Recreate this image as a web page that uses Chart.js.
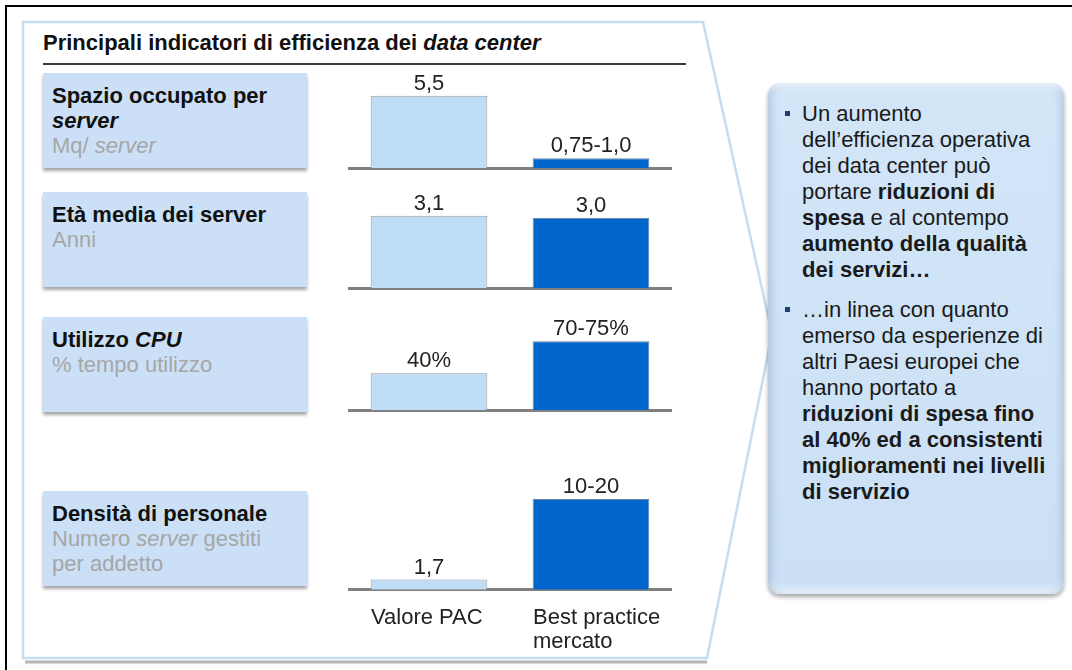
<!DOCTYPE html>
<html>
<head>
<meta charset="utf-8">
<script src="https://cdn.jsdelivr.net/npm/chart.js@4.4.0/dist/chart.umd.min.js"></script>
<style>
  html, body { margin: 0; padding: 0; background: #fff; }
  body { width: 1072px; height: 670px; position: relative; overflow: hidden;
         font-family: 'Liberation Sans', Arial, Helvetica, sans-serif; color: #111; }
  .frame-top { position: absolute; left: 5px; top: 5px; width: 1067px; height: 2px; background: #000; }
  .frame-left { position: absolute; left: 5px; top: 5px; width: 2px; height: 665px; background: #000; }
  svg.panel { position: absolute; left: 0; top: 0; }
  .title { position: absolute; left: 43px; top: 30px; font-size: 22px; line-height: 26px; font-weight: bold; white-space: nowrap; }
  .rule { position: absolute; left: 43px; top: 63px; width: 643px; height: 2px; background: #3a3a3a; }
  .box { position: absolute; left: 43px; width: 255px; height: 85px; padding: 10px 0 0 9px;
         background: #cbe0f6; box-shadow: 0 3px 3px rgba(0,0,0,0.35);
         font-size: 22px; line-height: 25px; white-space: nowrap; }
  .box b { color: #111; }
  .box .sub { color: #a6a6a6; }
  canvas { position: absolute; left: 348px; }
  .callout { position: absolute; left: 768px; top: 83px; width: 296px; height: 511px; border-radius: 12px;
             background: linear-gradient(#d3e6f8, #cbe0f5);
             box-shadow: inset 0 7px 7px -5px rgba(255,255,255,0.8),
                         inset 7px 0 8px -5px rgba(80,110,150,0.35),
                         inset -7px 0 8px -5px rgba(80,110,150,0.3),
                         inset 0 -9px 8px -5px rgba(255,255,255,0.7),
                         0 3px 4px rgba(0,0,0,0.35); }
  .notes { position: absolute; left: 802px; top: 101px; font-size: 22px; line-height: 26px; color: #1a1a1a; white-space: nowrap; }
  .notes p { margin: 0; position: relative; }
  .notes p + p { margin-top: 14px; }
  .notes p::before { content: ''; position: absolute; left: -17px; top: 10px; width: 5px; height: 5px; background: #1f3f6e; }
</style>
</head>
<body>
<div class="frame-top"></div>
<div class="frame-left"></div>

<svg class="panel" width="1072" height="670">
  <polyline points="25,662 707,662" fill="none" stroke="rgba(90,90,90,0.45)" stroke-width="3"/>
  <polygon points="23,22 703,22 772,334 707,658 23,658" fill="none" stroke="#c7dcf1" stroke-width="2.5"/>
</svg>

<div class="title">Principali indicatori di efficienza dei <i>data center</i></div>
<div class="rule"></div>

<div class="box" style="top:73px"><b>Spazio occupato per</b><br><b><i>server</i></b><br><span class="sub">Mq/ <i>server</i></span></div>
<div class="box" style="top:192px"><b>Età media dei server</b><br><span class="sub">Anni</span></div>
<div class="box" style="top:317px"><b>Utilizzo <i>CPU</i></b><br><span class="sub">% tempo utilizzo</span></div>
<div class="box" style="top:491px"><b>Densità di personale</b><br><span class="sub">Numero <i>server</i> gestiti</span><br><span class="sub">per addetto</span></div>

<canvas id="row0" width="324" height="130" style="top:40px"></canvas>
<canvas id="row1" width="324" height="130" style="top:160px"></canvas>
<canvas id="row2" width="324" height="130" style="top:282px"></canvas>
<canvas id="row3" width="324" height="210" style="top:460px"></canvas>

<div class="callout"></div>
<div class="notes">
  <p>Un aumento<br>dell’efficienza operativa<br>dei data center può<br>portare <b>riduzioni di</b><br><b>spesa</b> e al contempo<br><b>aumento della qualità</b><br><b>dei servizi…</b></p>
  <p>…in linea con quanto<br>emerso da esperienze di<br>altri Paesi europei che<br>hanno portato a<br><b>riduzioni di spesa fino</b><br><b>al 40% ed a consistenti</b><br><b>miglioramenti nei livelli</b><br><b>di servizio</b></p>
</div>

<script>
// one row per indicator, two bars each
const categories = ['Valore PAC', ['Best practice', 'mercato']];
const pacValues = [5.5, 3.1, 40, 1.7];
const bestValues = [0.75, 3.0, 75, 15];
const pacLabels = ['5,5', '3,1', '40%', '1,7'];
const bestLabels = ['0,75-1,0', '3,0', '70-75%', '10-20'];
const rowMax = [7.6, 4.29, 109, 16.8];

const fontFamily = "'Liberation Sans', Arial, Helvetica, sans-serif";

const valueLabels = {
    id: 'valueLabels',
    afterDatasetsDraw(chart, args, opts) {
        const ctx = chart.ctx;
        ctx.save();
        ctx.font = '22px ' + fontFamily;
        ctx.fillStyle = '#222';
        ctx.textAlign = 'center';
        ctx.textBaseline = 'middle';
        chart.getDatasetMeta(0).data.forEach((bar, j) => {
            ctx.fillText(opts.texts[j], bar.x, bar.y - 12);
        });
        ctx.restore();
    }
};

pacValues.forEach((v, i) => {
    const last = i === pacValues.length - 1;
    new Chart(document.getElementById('row' + i), {
        type: 'bar',
        data: {
            labels: categories,
            datasets: [{
                data: [pacValues[i], bestValues[i]],
                backgroundColor: ['#c0ddf7', '#0066cc'],
                borderColor: ['#9c9c9c', '#6f87a3'],
                borderWidth: 1,
                barPercentage: 0.72,
                categoryPercentage: 1
            }]
        },
        options: {
            responsive: false,
            animation: false,
            events: [],
            layout: { padding: { top: 28, bottom: last ? 0 : 2, left: 0, right: 0 } },
            plugins: {
                legend: { display: false },
                tooltip: { enabled: false },
                valueLabels: { texts: [pacLabels[i], bestLabels[i]] }
            },
            scales: {
                x: {
                    grid: { display: false, drawTicks: false },
                    border: { display: true, color: '#808080', width: 3 },
                    ticks: {
                        display: last,
                        align: 'start',
                        labelOffset: -58,
                        padding: 17,
                        maxRotation: 0,
                        autoSkip: false,
                        color: '#222',
                        font: { size: 22, family: fontFamily, lineHeight: 1.05 }
                    },
                    // keep the plot full width even when the labels overhang
                    afterFit: scale => { scale.paddingLeft = 0; scale.paddingRight = 0; }
                },
                y: { display: false, min: 0, max: rowMax[i] }
            }
        },
        plugins: [valueLabels]
    });
});
</script>
</body>
</html>
